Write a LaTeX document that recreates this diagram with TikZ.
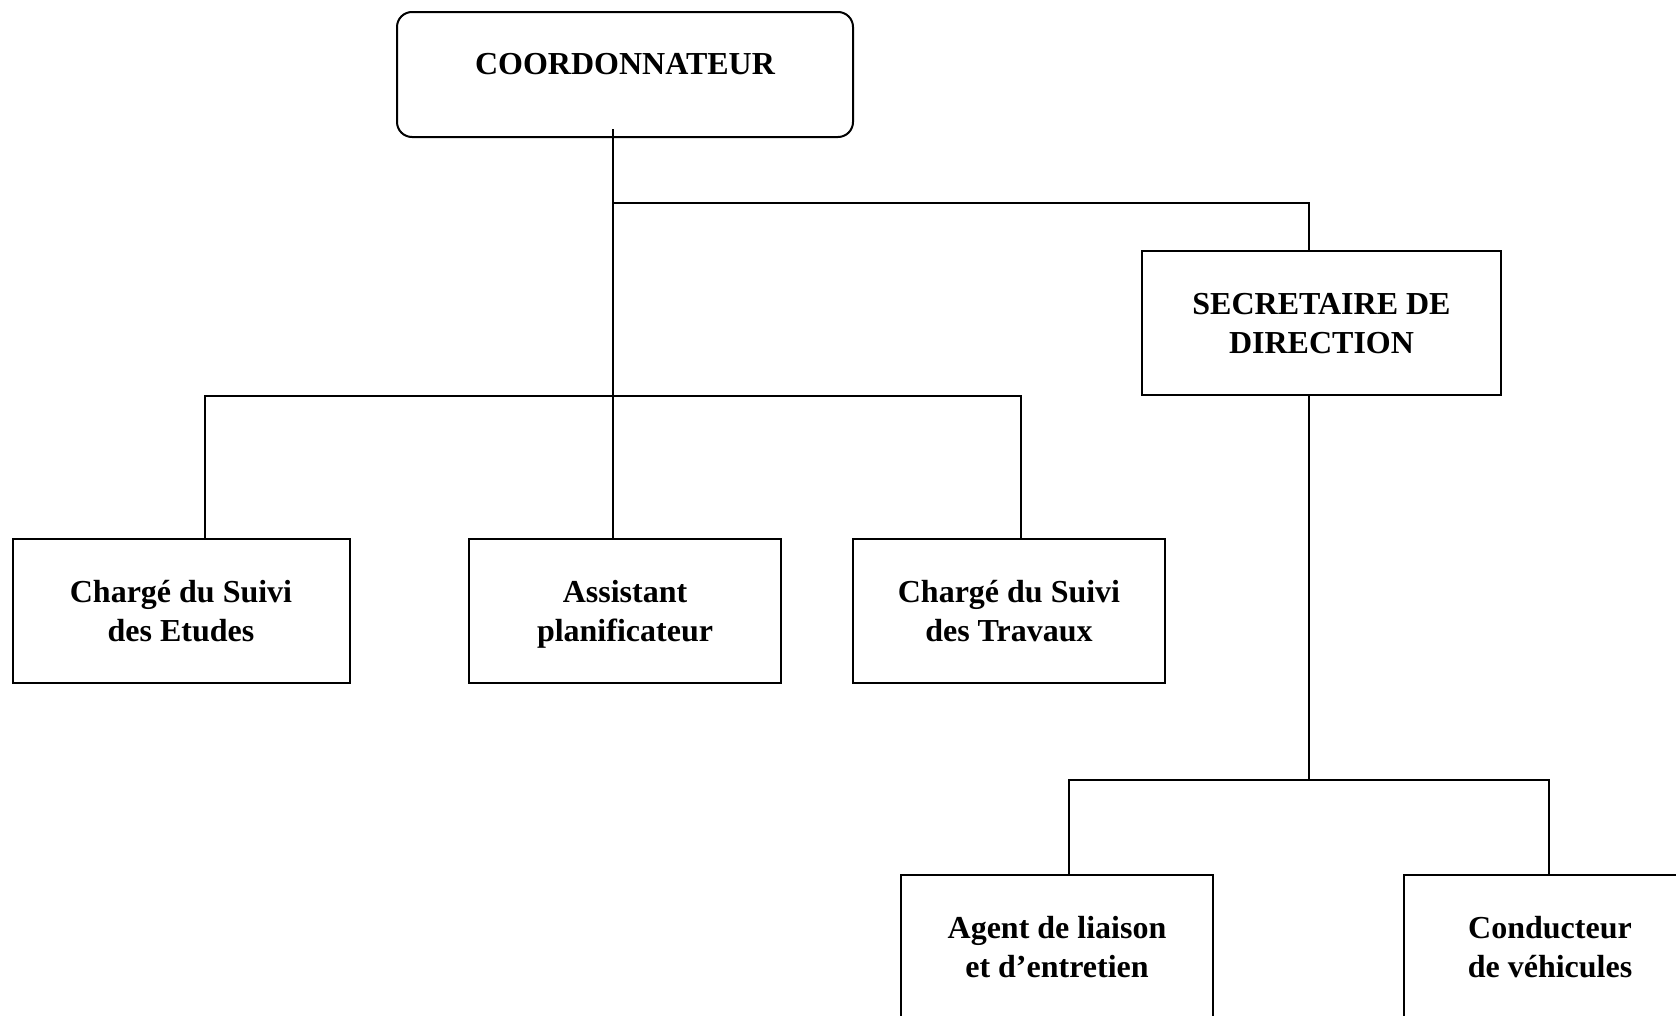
\documentclass[tikz,border=0pt]{standalone}
\usepackage{fontspec}
\setmainfont{Liberation Serif}
\begin{document}
\begin{tikzpicture}[x=1pt,y=-1pt,
  box/.style={draw, line width=2pt, minimum width=312pt, minimum height=144pt, inner sep=0pt, align=center, text height=61.6pt, text depth=0pt, font=\fontsize{32}{39.6}\selectfont\bfseries},
  lbl/.style={inner sep=0pt, font=\fontsize{32}{39.6}\selectfont\bfseries},
  link/.style={line width=2pt}]
\useasboundingbox (0,0) rectangle (1676,1015);
\clip (0,0) rectangle (1676,1015);
% boxes
\node[box, rounded corners=15pt, minimum width=456pt, minimum height=125pt] (coord) at (625,74.5) {};
\node[lbl] (coordt) at (625,64) {COORDONNATEUR};
\node[box, minimum width=359pt] (sec) at (1321.5,323) {SECRETAIRE DE\\DIRECTION};
\node[box, minimum width=337pt] (b1) at (181,611) {Chargé du Suivi\\des Etudes};
\node[box] (b2) at (625,611) {Assistant\\planificateur};
\node[box] (b3) at (1009,611) {Chargé du Suivi\\des Travaux};
\node[box] (b4) at (1057,947) {Agent de liaison\\et d’entretien};
\node[box, minimum width=292pt] (b5) at (1550,947) {Conducteur\\de véhicules};
% junctions
\coordinate (t0) at (612.5,129);
\coordinate (j1) at (612.5,202.5);
\coordinate (j2) at (612.5,395.5);
\coordinate (j3) at (1308.5,780);
% connectors
\draw[link] (t0) -- (j2);
\draw[link] (j1) -| ([xshift=-13pt]sec.north);
\draw[link] ([xshift=24pt]b1.north) |- (j2) -| ([xshift=12pt]b3.north);
\draw[link] (j2) -- (j2 |- b2.north);
\draw[link] ([xshift=-13pt]sec.south) -- (j3);
\draw[link] ([xshift=12pt]b4.north) |- (j3) -| ([xshift=-1pt]b5.north);
\end{tikzpicture}
\end{document}
